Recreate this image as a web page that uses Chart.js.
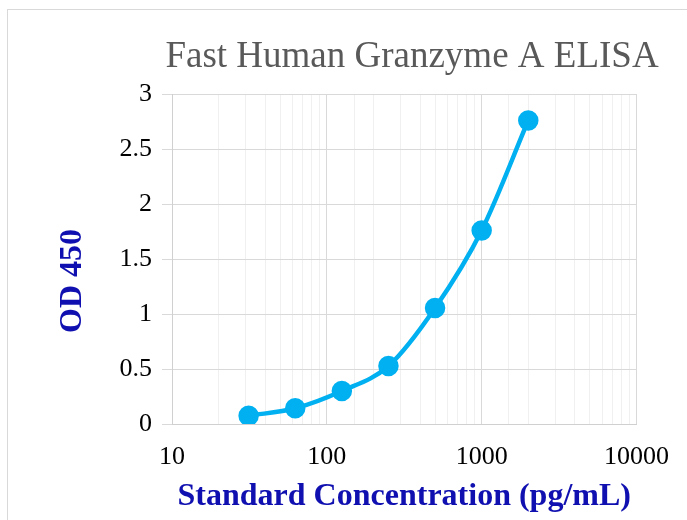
<!DOCTYPE html>
<html>
<head>
<meta charset="utf-8">
<script src="https://cdn.jsdelivr.net/npm/chart.js@4.4.1/dist/chart.umd.min.js"></script>
<style>
  html, body { margin: 0; padding: 0; background: #fff; overflow: hidden; }
  #wrap { position: relative; width: 687px; height: 520px; }
  #frame { position: absolute; left: 7px; top: 9px; width: 800px; height: 600px; border: 1px solid #d9d9d9; }
  canvas { position: absolute; left: 0; top: 0; }
</style>
</head>
<body>
<div id="wrap">
  <div id="frame"></div>
  <canvas id="chart" width="687" height="520"></canvas>
</div>
<script>
  // Data
  const concentrations = [31.25, 62.5, 125, 250, 500, 1000, 2000];
  const od450 = [0.075, 0.143, 0.30, 0.527, 1.055, 1.76, 2.76];
  const xTickLabels = [10, 100, 1000, 10000];
  const yTickValues = [0, 0.5, 1, 1.5, 2, 2.5, 3];

  const chartTitle = "Fast Human Granzyme A ELISA";
  const xTitle = "Standard Concentration (pg/mL)";
  const yTitle = "OD 450";

  const serif = "'Liberation Serif', 'Times New Roman', serif";
  const blue = "#1010b0";

  const titles = {
    id: 'titles',
    afterDraw(chart) {
      const ctx = chart.ctx;
      const area = chart.chartArea;
      ctx.save();
      ctx.fillStyle = "#595959";
      ctx.font = "37px " + serif;
      ctx.textAlign = "center";
      ctx.textBaseline = "middle";
      ctx.fillText(chartTitle, 412, 57);

      ctx.fillStyle = blue;
      ctx.font = "bold 32px " + serif;
      ctx.fillText(xTitle, (area.left + area.right) / 2, 497);

      ctx.translate(73, 281);
      ctx.rotate(-Math.PI / 2);
      ctx.fillText(yTitle, 0, 0);
      ctx.restore();
    }
  };

  new Chart(document.getElementById("chart"), {
    type: 'line',
    data: {
      datasets: [{
        label: yTitle,
        data: concentrations.map(function(c, i) { return { x: c, y: od450[i] }; }),
        borderColor: "#00b0f0",
        backgroundColor: "#00b0f0",
        borderWidth: 4.5,
        pointRadius: 8,
        pointHoverRadius: 8,
        cubicInterpolationMode: 'monotone',
        fill: false
      }]
    },
    options: {
      responsive: false,
      animation: false,
      layout: { padding: { top: 94, right: 46, left: 0, bottom: 0 } },
      plugins: {
        legend: { display: false },
        title: { display: false },
        tooltip: { enabled: false }
      },
      scales: {
        x: {
          type: 'logarithmic',
          min: 10,
          max: 10000,
          afterFit: function(scale) { scale.height = 96; },
          grid: {
            drawTicks: false,
            color: function(ctx) {
              const v = ctx.tick && ctx.tick.value;
              return xTickLabels.indexOf(v) >= 0 ? "#d9d9d9" : "#f0f0f0";
            },
            lineWidth: 1
          },
          border: { color: "#d0d0d0" },
          ticks: {
            autoSkip: false,
            maxRotation: 0,
            padding: 18,
            color: "#000",
            font: { family: serif, size: 26 },
            callback: function(v) {
              return xTickLabels.indexOf(v) >= 0 ? String(v) : '';
            }
          }
        },
        y: {
          min: 0,
          max: 3,
          afterFit: function(scale) { scale.width = 172; },
          afterBuildTicks: function(scale) {
            scale.ticks = yTickValues.map(function(v) { return { value: v }; });
          },
          grid: {
            color: "#d9d9d9",
            tickLength: 10,
            tickColor: "#d9d9d9"
          },
          border: { color: "#d0d0d0" },
          ticks: {
            padding: 10,
            color: "#000",
            font: { family: serif, size: 26 },
            callback: function(v) { return String(v); }
          }
        }
      }
    },
    plugins: [titles]
  });
</script>
</body>
</html>
